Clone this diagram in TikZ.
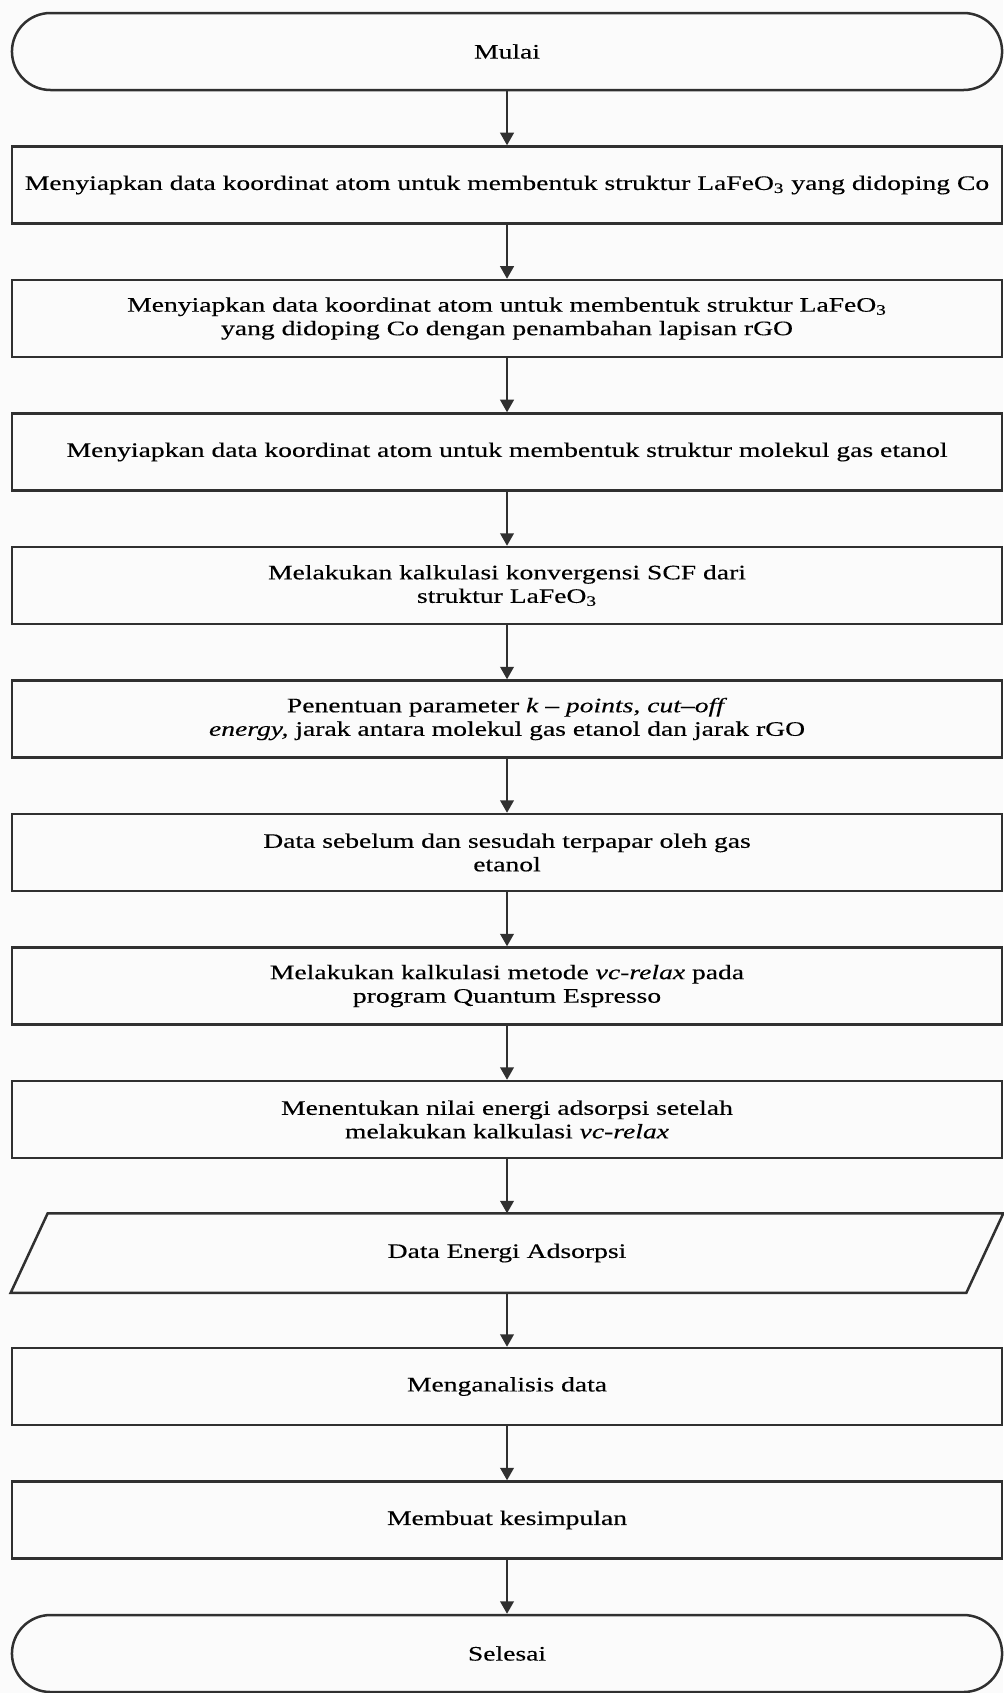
\documentclass[tikz,border=0pt]{standalone}
\usepackage{fontspec}
\setmainfont{Liberation Serif}[FakeStretch=1.34,FakeBold=0.3]
\usepackage{tikz}
\usetikzlibrary{calc,arrows.meta,positioning}
\definecolor{garis}{HTML}{303030}
\definecolor{latar}{HTML}{FBFBFB}
\begin{document}
\begin{tikzpicture}[scale=1.0,>={Triangle[length=0.22cm,width=0.24cm]},
    kotak/.style={draw=garis,line width=1.25pt,rectangle,minimum width=17.40cm,
                  minimum height=1.353cm,inner sep=0pt,align=center,
                  font=\fontsize{10.3}{11.75}\selectfont},
    ujung/.style={kotak,rounded corners=0.677cm},
    panah/.style={->,draw=garis,fill=garis,line width=1pt}]
  \useasboundingbox (0,0) rectangle (17.626,-29.751);
  \fill[latar] (0,0) rectangle (17.626,-29.751);
  % mulai
  \node[ujung] (mulai) at (8.91,-0.905) {Mulai};
  % langkah persiapan
  \node[kotak] (b1) at (8.91,-3.251)
    {Menyiapkan data koordinat atom untuk membentuk struktur LaFeO\textsubscript{3} yang didoping Co};
  \node[kotak] (b2) at (8.91,-5.597)
    {Menyiapkan data koordinat atom untuk membentuk struktur LaFeO\textsubscript{3}\\
     yang didoping Co dengan penambahan lapisan rGO};
  \node[kotak] (b3) at (8.91,-7.943)
    {Menyiapkan data koordinat atom untuk membentuk struktur molekul gas etanol};
  % kalkulasi
  \node[kotak] (b4) at (8.91,-10.289)
    {Melakukan kalkulasi konvergensi SCF dari\\ struktur LaFeO\textsubscript{3}};
  \node[kotak] (b5) at (8.91,-12.635)
    {Penentuan parameter \textit{k – points, cut–off}\\
     \textit{energy,} jarak antara molekul gas etanol dan jarak rGO};
  \node[kotak] (b6) at (8.91,-14.981)
    {Data sebelum dan sesudah terpapar oleh gas\\ etanol};
  \node[kotak] (b7) at (8.91,-17.327)
    {Melakukan kalkulasi metode \textit{vc-relax} pada\\ program Quantum Espresso};
  \node[kotak] (b8) at (8.91,-19.673)
    {Menentukan nilai energi adsorpsi setelah\\ melakukan kalkulasi \textit{vc-relax}};
  % data keluaran
  \node[kotak,draw=none] (data) at (8.91,-22.019) {Data Energi Adsorpsi};
  \draw[garis,line width=1.25pt,line join=miter]
    (data.south west) -- ($(data.north west)+(0.65,0)$) -- (data.north east)
    -- ($(data.south east)-(0.65,0)$) -- cycle;
  \node[kotak] (b9) at (8.91,-24.365) {Menganalisis data};
  \node[kotak] (b10) at (8.91,-26.711) {Membuat kesimpulan};
  % selesai
  \node[ujung] (selesai) at (8.91,-29.057) {Selesai};
  \foreach \a/\b in {mulai/b1,b1/b2,b2/b3,b3/b4,b4/b5,b5/b6,b6/b7,b7/b8,
                     b8/data,data/b9,b9/b10,b10/selesai}{
    \draw[panah] (\a) -- (\b);
  }
\end{tikzpicture}
\end{document}
